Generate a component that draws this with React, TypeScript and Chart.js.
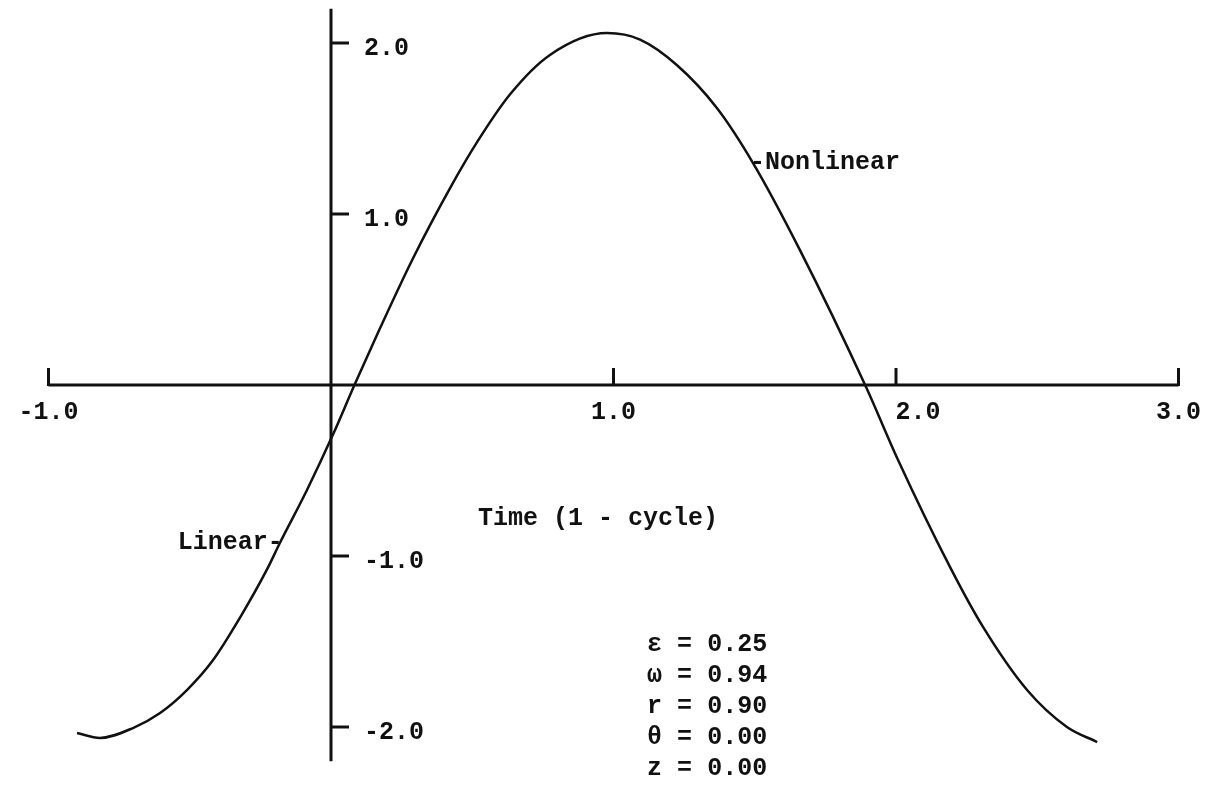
import React, { useEffect, useRef } from "react";
import { Chart, registerables } from "chart.js";

Chart.register(...registerables);

// Response over one cycle (time in cycles, amplitude in response units)
const timeValues = [
  -0.899, -0.818, -0.701, -0.605, -0.51, -0.418, -0.322, -0.227, -0.181, -0.085,
  0.007, 0.083, 0.173, 0.29, 0.421, 0.517, 0.634, 0.775, 0.977, 1.094,
  1.225, 1.366, 1.494, 1.66, 1.894, 2.004, 2.191, 2.308, 2.464, 2.605, 2.712,
];
const responseValues = [
  -2.035, -2.064, -2.006, -1.918, -1.784, -1.61, -1.36, -1.08, -0.924, -0.614,
  -0.29, 0.0, 0.33, 0.74, 1.15, 1.42, 1.7, 1.93, 2.058, 2.02,
  1.87, 1.62, 1.298, 0.789, -0.012, -0.427, -1.064, -1.415, -1.784, -2.0, -2.088,
];

const xTickValues = [-1, 1, 2, 3];
const xTickLabels = ["-1.0", "1.0", "2.0", "3.0"];
const yTickValues = [2, 1, -1, -2];
const yTickLabels = ["2.0", "1.0", "-1.0", "-2.0"];

const axisTitle = "Time (1 - cycle)";
const linearLabel = { text: "Linear-", x: -0.181, y: -0.924 };
const nonlinearLabel = { text: "-Nonlinear", x: 1.494, y: 1.298 };
const parameterLines = ["ε = 0.25", "ω = 0.94", "r = 0.90", "θ = 0.00", "z = 0.00"];
const parameterAnchor = { x: 1.119, y: -1.52 };
const titleAnchor = { x: 0.945, y: -0.78 };

const FONT_FAMILY = '"Liberation Mono", "DejaVu Sans Mono", monospace';
const INK = "#111";

const axesPlugin = {
  id: "crossedAxes",
  beforeDatasetsDraw(chart: any) {
    const { ctx, chartArea, scales } = chart;
    const xs = scales.x;
    const ys = scales.y;
    const x0 = xs.getPixelForValue(0);
    const y0 = ys.getPixelForValue(0);
    ctx.save();
    ctx.strokeStyle = INK;
    ctx.lineWidth = 3;
    ctx.lineCap = "butt";

    // horizontal axis through y = 0
    ctx.beginPath();
    ctx.moveTo(xs.getPixelForValue(xs.min), y0);
    ctx.lineTo(xs.getPixelForValue(xs.max), y0);
    ctx.stroke();

    // vertical axis through x = 0
    ctx.beginPath();
    ctx.moveTo(x0, chartArea.top);
    ctx.lineTo(x0, chartArea.bottom);
    ctx.stroke();

    // tick marks: upward on the time axis, rightward on the response axis
    xTickValues.forEach((v) => {
      const px = xs.getPixelForValue(v);
      ctx.beginPath();
      ctx.moveTo(px, y0 + 1);
      ctx.lineTo(px, y0 - 17);
      ctx.stroke();
    });
    yTickValues.forEach((v) => {
      const py = ys.getPixelForValue(v);
      ctx.beginPath();
      ctx.moveTo(x0, py);
      ctx.lineTo(x0 + 18, py);
      ctx.stroke();
    });
    ctx.restore();
  },
  afterDraw(chart: any) {
    const { ctx, scales } = chart;
    const xs = scales.x;
    const ys = scales.y;
    const x0 = xs.getPixelForValue(0);
    const y0 = ys.getPixelForValue(0);
    ctx.save();
    ctx.fillStyle = INK;
    ctx.font = `bold 25px ${FONT_FAMILY}`;
    ctx.textBaseline = "middle";

    // time axis labels
    ctx.textAlign = "center";
    xTickValues.forEach((v, i) => {
      const nudge = v === 2 ? 22 : 0;
      ctx.fillText(xTickLabels[i], xs.getPixelForValue(v) + nudge, y0 + 28);
    });

    // response axis labels
    ctx.textAlign = "left";
    yTickValues.forEach((v, i) => {
      ctx.fillText(yTickLabels[i], x0 + 33, ys.getPixelForValue(v) + 6);
    });

    // axis title
    ctx.textAlign = "center";
    ctx.fillText(axisTitle, xs.getPixelForValue(titleAnchor.x), ys.getPixelForValue(titleAnchor.y));

    // curve labels
    ctx.textAlign = "right";
    ctx.fillText(
      linearLabel.text,
      xs.getPixelForValue(linearLabel.x) + 3,
      ys.getPixelForValue(linearLabel.y)
    );
    ctx.textAlign = "left";
    ctx.fillText(
      nonlinearLabel.text,
      xs.getPixelForValue(nonlinearLabel.x) - 3,
      ys.getPixelForValue(nonlinearLabel.y)
    );

    // parameter block
    const px = xs.getPixelForValue(parameterAnchor.x);
    const py = ys.getPixelForValue(parameterAnchor.y);
    parameterLines.forEach((line, i) => {
      ctx.fillText(line, px, py + i * 31);
    });
    ctx.restore();
  },
};

export default function App() {
  const canvasRef = useRef<HTMLCanvasElement | null>(null);

  useEffect(() => {
    const canvas = canvasRef.current;
    if (!canvas) return;
    const points = timeValues.map((t, i) => ({ x: t, y: responseValues[i] }));
    const chart = new Chart(canvas, {
      type: "line",
      data: {
        datasets: [
          {
            label: "Response",
            data: points,
            borderColor: INK,
            borderWidth: 2.5,
            pointRadius: 0,
            fill: false,
            cubicInterpolationMode: "monotone",
            clip: false as any,
          },
        ],
      },
      options: {
        responsive: false,
        animation: false,
        maintainAspectRatio: false,
        devicePixelRatio: 1,
        layout: { padding: { left: 48.5, right: 34.5, top: 8.8, bottom: 32.8 } },
        plugins: {
          legend: { display: false },
          tooltip: { enabled: false },
          title: { display: false },
        },
        scales: {
          x: { type: "linear", min: -1, max: 3, display: false },
          y: { type: "linear", min: -2.2, max: 2.2, display: false },
        },
      },
      plugins: [axesPlugin],
    });
    return () => chart.destroy();
  }, []);

  return (
    <div style={{ position: "absolute", left: 0, top: 0, width: 1213, height: 794, background: "#fff" }}>
      <canvas ref={canvasRef} width={1213} height={794} style={{ width: 1213, height: 794, display: "block" }} />
    </div>
  );
}
